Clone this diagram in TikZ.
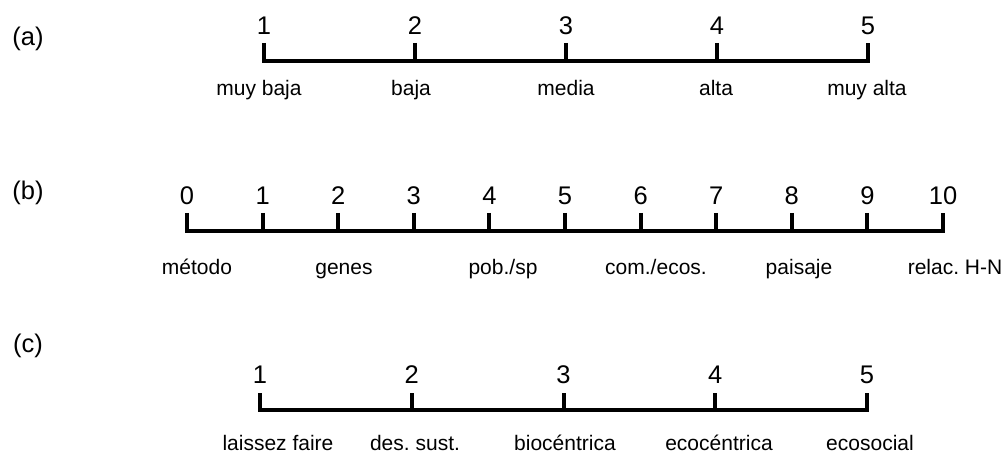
\documentclass[tikz,border=0pt]{standalone}
\usepackage{fontspec}
\setmainfont{Liberation Sans}
\frenchspacing
\newcommand{\tickfont}{\fontsize{25.5}{27}\selectfont}
\newcommand{\lblfont}{\fontsize{21}{23}\selectfont}
\tikzset{
    every node/.style={inner sep=0pt, outer sep=0pt}
}
\tikzset{
    num/.style={anchor=base, font=\tickfont},
    lbl/.style={anchor=base, font=\lblfont},
    panel/.style={anchor=base, font=\tickfont},
    axisline/.style={line width=4pt, line join=miter}
}

\begin{document}
\begin{tikzpicture}[x=1pt, y=-1pt]
	\useasboundingbox (0,0) rectangle (1003,454);

	% (a)
	\node[panel] (pa) at (28,46) {(a)};
	\foreach \i/\x in {1/264,2/415,3/566,4/717,5/868}{
		\coordinate (a\i) at (\x,61);
		\coordinate (ta\i) at (\x,43);
		\node[num] (na\i) at (\x,35) {\i};
	}
	\draw[axisline] (ta1) -- (a1) -- (a5) -- (ta5);
	\foreach \i in {2,3,4} \draw[axisline] (ta\i) -- (a\i);
	\node[lbl] (la1) at (259,96) {muy baja};
	\node[lbl] (la2) at (411,96) {baja};
	\node[lbl] (la3) at (566,96) {media};
	\node[lbl] (la4) at (716,96) {alta};
	\node[lbl] (la5) at (867,96) {muy alta};

	% (b)
	\node[panel] (pb) at (28,200) {(b)};
	\foreach \i in {0,...,10}{
		\coordinate (b\i) at (187+75.6*\i,231);
		\coordinate (tb\i) at (187+75.6*\i,213);
		\node[num] (nb\i) at (187+75.6*\i,205) {\i};
	}
	\draw[axisline] (tb0) -- (b0) -- (b10) -- (tb10);
	\foreach \i in {1,...,9} \draw[axisline] (tb\i) -- (b\i);
	\node[lbl] (lb1) at (197,274) {método};
	\node[lbl] (lb2) at (344,274) {genes};
	\node[lbl] (lb3) at (503,274) {pob./sp};
	\node[lbl] (lb4) at (656,274) {com./ecos.};
	\node[lbl] (lb5) at (799,274) {paisaje};
	\node[lbl] (lb6) at (955,274) {relac. H-N};

	% (c)
	\node[panel] (pc) at (28,352) {(c)};
	\foreach \i in {1,...,5}{
		\coordinate (c\i) at (260+151.75*\i-151.75,410);
		\coordinate (tc\i) at (260+151.75*\i-151.75,393);
		\node[num] (nc\i) at (260+151.75*\i-151.75,383) {\i};
	}
	\draw[axisline] (tc1) -- (c1) -- (c5) -- (tc5);
	\foreach \i in {2,3,4} \draw[axisline] (tc\i) -- (c\i);
	\node[lbl] (lc1) at (278,450) {laissez faire};
	\node[lbl] (lc2) at (415,450) {des. sust.};
	\node[lbl] (lc3) at (565,450) {biocéntrica};
	\node[lbl] (lc4) at (719,450) {ecocéntrica};
	\node[lbl] (lc5) at (870,450) {ecosocial};
\end{tikzpicture}
\end{document}
